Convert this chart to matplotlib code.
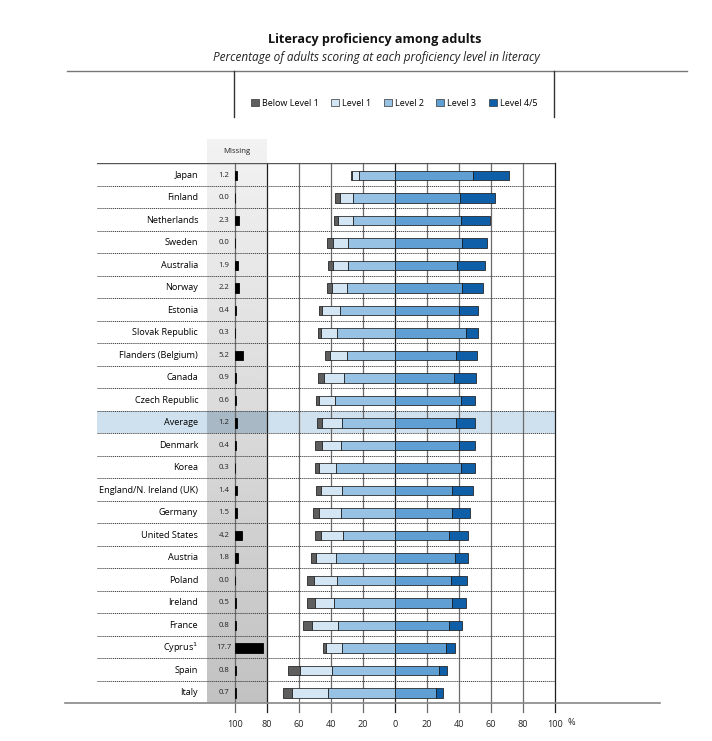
import numpy as np
import matplotlib.pyplot as plt
from matplotlib.patches import Patch, Rectangle
from matplotlib.lines import Line2D

plt.rcParams['font.family'] = ['Open Sans', 'DejaVu Sans']

# data (percent of adults)
countries = ['Japan', 'Finland', 'Netherlands', 'Sweden', 'Australia', 'Norway',
             'Estonia', 'Slovak Republic', 'Flanders (Belgium)', 'Canada',
             'Czech Republic', 'Average', 'Denmark', 'Korea',
             'England/N. Ireland (UK)', 'Germany', 'United States', 'Austria',
             'Poland', 'Ireland', 'France', 'Cyprus$^{1}$', 'Spain', 'Italy']
missing = [1.2, 0.0, 2.3, 0.0, 1.9, 2.2, 0.4, 0.3, 5.2, 0.9, 0.6, 1.2,
           0.4, 0.3, 1.4, 1.5, 4.2, 1.8, 0.0, 0.5, 0.8, 17.7, 0.8, 0.7]
below1 = [0.6, 2.7, 2.7, 3.7, 3.1, 3.3, 2.0, 1.9, 2.7, 3.8, 1.5, 3.3,
          3.8, 2.2, 3.6, 3.8, 4.2, 2.9, 4.3, 4.8, 5.3, 1.7, 7.2, 5.6]
level1 = [4.3, 8.0, 9.1, 9.6, 9.4, 9.0, 11.3, 10.1, 11.0, 12.6, 10.3, 12.2,
          11.9, 10.6, 12.9, 13.7, 13.7, 12.5, 14.8, 12.1, 16.2, 10.2, 20.4, 22.2]
level2 = [22.8, 26.5, 26.4, 29.2, 29.1, 30.2, 34.2, 36.0, 29.8, 31.7, 37.4, 33.3,
          34.0, 37.1, 33.1, 34.0, 32.3, 37.1, 36.1, 38.1, 35.9, 32.9, 39.1, 42.0]
level3 = [48.6, 40.7, 41.4, 41.6, 39.0, 41.6, 40.0, 44.2, 38.3, 37.1, 41.0, 38.0,
          39.9, 41.5, 35.6, 35.8, 33.7, 37.3, 34.7, 35.8, 34.0, 31.9, 27.8, 25.8]
level45 = [22.6, 22.1, 18.1, 15.9, 17.5, 13.7, 12.1, 7.5, 13.0, 13.5, 9.0, 12.0,
           10.1, 8.3, 13.4, 11.3, 11.9, 8.5, 10.1, 8.8, 7.7, 5.6, 4.8, 3.9]
levels = ['Below Level 1', 'Level 1', 'Level 2', 'Level 3', 'Level 4/5']
colors = ['#5e5e5e', '#d4e6f4', '#98c2e4', '#5f9fd3', '#0f5ea8']
ticks = [-100, -80, -60, -40, -20, 0, 20, 40, 60, 80, 100]

n = len(countries)
y = np.arange(n) + 0.55
b1 = np.array(below1)
l1 = np.array(level1)
l2 = np.array(level2)
l3 = np.array(level3)
l45 = np.array(level45)

fig = plt.figure(figsize=(7.12, 7.41), dpi=100)
ax = fig.add_axes([97 / 712, 1 - 703 / 741, 458 / 712, 540 / 741])
ax.set_xlim(-186.25, 100)
ax.set_ylim(n, 0)
for s in ax.spines.values():
    s.set_visible(False)
ax.set_yticks([])

# grey "missing" panel with a soft gradient
grad = np.linspace(0.95, 0.76, 200).reshape(-1, 1)
ax.imshow(grad, cmap='gray', vmin=0, vmax=1, extent=[-117.5, -80, n, -1.05],
          aspect='auto', zorder=0, clip_on=False, interpolation='bicubic')

# highlight the average row
avg = countries.index('Average')
ax.add_patch(Rectangle((-186.25, avg), 286.25, 1, color='#cfe1ef', zorder=0.5, lw=0))
ax.add_patch(Rectangle((-117.5, avg), 37.5, 1, color='#a8b8c5', zorder=0.6, lw=0))

# vertical grid lines
for t in ticks:
    c = '#1e1e1e' if t in (-80, 0, 100) else '#6a6a6a'
    ax.plot([t, t], [0, n + 0.42], color=c, lw=0.9, zorder=1, clip_on=False)

# row separators
for i in range(1, n):
    ax.plot([-186.25, 100], [i, i], color='#444444', lw=0.7, ls=(0, (1.2, 0.8)), zorder=1)
ax.plot([-186.25, 100], [0, 0], color='#555555', lw=1.0, zorder=1)
ax.plot([-206.25, 165.6], [n, n], color='#888888', lw=1.2, zorder=1, clip_on=False)

# stacked bars
h = 0.42
kw = dict(height=h, edgecolor='#1a1a1a', linewidth=0.55, zorder=3)
ax.barh(y, b1, left=-(b1 + l1 + l2), color=colors[0], **kw)
ax.barh(y, l1, left=-(l1 + l2), color=colors[1], **kw)
ax.barh(y, l2, left=-l2, color=colors[2], **kw)
ax.barh(y, l3, left=0, color=colors[3], **kw)
ax.barh(y, l45, left=l3, color=colors[4], **kw)

# missing bars
ax.barh(y, missing, left=-100, height=h, color='black', edgecolor='black',
        linewidth=0.6, zorder=3)

for i, c in enumerate(countries):
    ax.text(-123, y[i], c, ha='right', va='center', fontsize=6.6, color='#000000')
    ax.text(-107, y[i], f'{missing[i]:.1f}', ha='center', va='center',
            fontsize=5.6, color='#222222')
ax.text(-99, -0.5, 'Missing', ha='center', va='center', fontsize=5.6, color='#222222')

ax.set_xticks(ticks)
ax.set_xticklabels([str(abs(t)) for t in ticks], fontsize=6.6, color='#222222')
ax.tick_params(axis='x', length=0, pad=12)
ax.text(110.5, n + 0.85, '%', ha='center', va='center', fontsize=6.6,
        color='#222222', clip_on=False)

# title block
fig.text(375 / 712, 1 - 40 / 741, 'Literacy proficiency among adults', ha='center',
         va='center', fontsize=9.1, fontweight='bold', color='#111111')
fig.text(376 / 712, 1 - 58 / 741,
         'Percentage of adults scoring at each proficiency level in literacy',
         ha='center', va='center', fontsize=8.5, style='italic', color='#222222')
fig.add_artist(Line2D([67 / 712, 687 / 712], [1 - 71 / 741, 1 - 71 / 741],
                      color='#777777', lw=1.0))
for xp in (234, 554):
    fig.add_artist(Line2D([xp / 712, xp / 712], [1 - 71 / 741, 1 - 117 / 741],
                          color='#333333', lw=1.0))

handles = [Patch(facecolor=c, edgecolor='#333333', linewidth=0.5) for c in colors]
fig.legend(handles, levels, loc='center', bbox_to_anchor=(394 / 712, 1 - 103 / 741),
           ncol=5, frameon=False, fontsize=6.5, handlelength=0.9, handleheight=0.9,
           handletextpad=0.3, columnspacing=1.4)

fig.savefig('out.png', dpi=100)
